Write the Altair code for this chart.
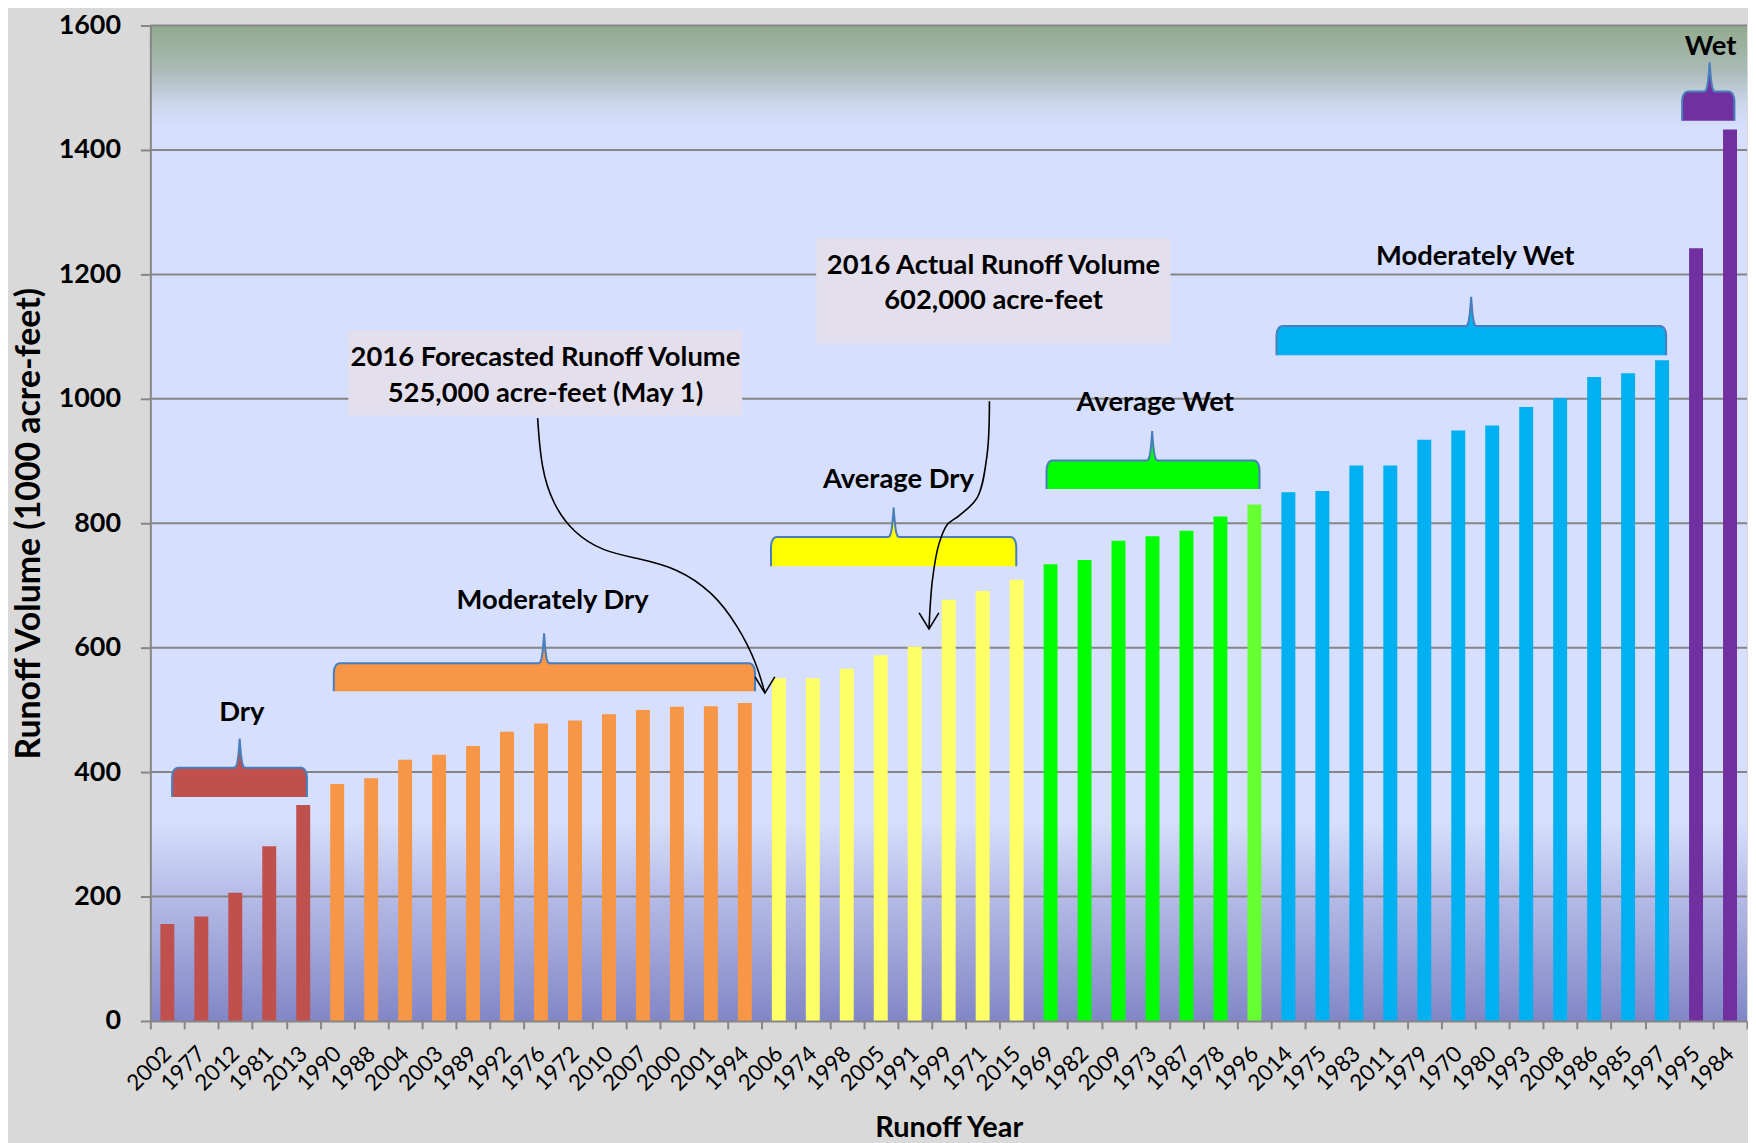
import math
import altair as alt
import pandas as pd

# ---------------- data ----------------
years = ["2002", "1977", "2012", "1981", "2013",
         "1990", "1988", "2004", "2003", "1989", "1992", "1976", "1972", "2010", "2007", "2000", "2001", "1994",
         "2006", "1974", "1998", "2005", "1991", "1999", "1971", "2015",
         "1969", "1982", "2009", "1973", "1987", "1978", "1996",
         "2014", "1975", "1983", "2011", "1979", "1970", "1980", "1993", "2008", "1986", "1985", "1997",
         "1995", "1984"]
volumes = [156, 168, 206, 281, 347,
           381, 390, 420, 428, 442, 465, 478, 483, 493, 500, 505, 506, 511,
           551, 551, 566, 588, 602, 677, 691, 709,
           734, 741, 772, 779, 788, 811, 830,
           850, 852, 893, 893, 934, 949, 957, 987, 1001, 1035, 1041, 1062,
           1242, 1433]
bar_colors = (["#C0504D"] * 5 + ["#F79646"] * 13 + ["#FFFF66"] * 8 +
              ["#00FF00"] * 6 + ["#66FF33"] +
              ["#00B0F0"] * 12 + ["#7030A0"] * 2)

# brace annotations (x in category slots, y in runoff units)
brace_names = ["Dry", "Moderately Dry", "Average Dry", "Average Wet", "Moderately Wet", "Wet"]
brace_fill = ["#C0504D", "#F79646", "#FFFF00", "#00FF00", "#00B0F0", "#7030A0"]
brace_left = [0.64, 5.40, 18.27, 26.38, 33.15, 45.09]
brace_right = [4.61, 17.80, 25.49, 32.65, 44.62, 46.63]
brace_peak_x = [2.63, 11.59, 21.88, 29.49, 38.88, 45.90]
brace_bottom = [360, 530, 731, 855, 1070, 1447]
brace_top = [407, 575, 778, 901, 1117, 1494]
brace_peak = [454, 623, 825, 948, 1164, 1541]
label_x = [2.69, 11.84, 22.02, 29.58, 39.0, 45.93]
label_y = [495, 675, 870, 994, 1228, 1566]

# text boxes
box_x1 = [5.83, 19.60]
box_x2 = [17.42, 30.03]
box_y1 = [973, 1089]
box_y2 = [1110, 1258]
box_text = ["2016 Forecasted Runoff Volume", "525,000 acre-feet (May 1)",
            "2016 Actual Runoff Volume", "602,000 acre-feet"]
box_text_x = [11.63, 11.63, 24.82, 24.82]
box_text_y = [1066, 1007, 1214, 1157]

# curved arrows
arrow1_x = [11.40, 11.50, 11.85, 12.45, 13.30, 14.40, 15.50, 16.55, 17.30, 17.85, 18.09]
arrow1_y = [969, 890, 830, 785, 755, 743, 728, 690, 635, 575, 527]
arrow2_x = [24.70, 24.63, 24.34, 23.80, 23.46, 23.21, 23.02, 22.92]
arrow2_y = [996, 910, 841, 812, 798, 766, 708, 630]

W, H = 1604, 1000
NSLOT = len(years)
GRID = "#868686"
FONT = "Lato"

# ---------------- tables ----------------
bars = pd.DataFrame({"year": years, "vol": volumes, "c": bar_colors})

area_rows, line_rows = [], []
for k, name in enumerate(brace_names):
    L, R, C = brace_left[k], brace_right[k], brace_peak_x[k]
    B, T, S = brace_bottom[k], brace_top[k], brace_peak[k]
    rx, ry, sw = 0.17, 15.0, 0.16
    top = []
    for a in [0, 25, 50, 70, 90]:
        t = math.radians(a)
        top.append((L + rx * (1 - math.cos(t)), T - ry + ry * math.sin(t)))
    for u in [1, 0.7, 0.45, 0.25, 0.1]:
        top.append((C - sw * u, T + (S - T) * (1 - u) ** 3))
    top.append((C, S))
    for u in [0.1, 0.25, 0.45, 0.7, 1]:
        top.append((C + sw * u, T + (S - T) * (1 - u) ** 3))
    for a in [90, 70, 50, 25, 0]:
        t = math.radians(a)
        top.append((R - rx * (1 - math.cos(t)), T - ry + ry * math.sin(t)))
    for i, (x, y) in enumerate(top):
        area_rows.append({"brace": name, "fill": brace_fill[k], "x": x, "y": y, "b": B, "i": i})
    full = [(L, B)] + top + [(R, B)]
    for i, (x, y) in enumerate(full):
        line_rows.append({"brace": name, "x": x, "y": y, "i": i})
brace_area = pd.DataFrame(area_rows)
brace_line = pd.DataFrame(line_rows)
labels = pd.DataFrame({"t": brace_names, "x": label_x, "y": label_y})
boxes = pd.DataFrame({"x1": box_x1, "x2": box_x2, "y1": box_y1, "y2": box_y2})
box_labels = pd.DataFrame({"t": box_text, "x": box_text_x, "y": box_text_y})

arrow1 = pd.DataFrame({"x": arrow1_x, "y": arrow1_y, "i": list(range(len(arrow1_x)))})
arrow2 = pd.DataFrame({"x": arrow2_x, "y": arrow2_y, "i": list(range(len(arrow2_x)))})
head_rows = []
for name, tx, ty in [("f", arrow1_x[-1], arrow1_y[-1]), ("g", arrow2_x[-1], arrow2_y[-1])]:
    head_rows += [{"a": name, "x": tx - 0.29, "y": ty + 26, "i": 0},
                  {"a": name, "x": tx, "y": ty, "i": 1},
                  {"a": name, "x": tx + 0.29, "y": ty + 26, "i": 2}]
heads = pd.DataFrame(head_rows)
grid = pd.DataFrame({"g": list(range(200, 1601, 200))})

# ---------------- scales ----------------
xs = alt.Scale(domain=[0, NSLOT], nice=False, zero=False)
ys = alt.Scale(domain=[0, 1600], nice=False)


def X(f="x"):
    return alt.X(f"{f}:Q", scale=xs, axis=None)


def Y(f="y"):
    return alt.Y(f"{f}:Q", scale=ys, axis=None)


# ---------------- layers ----------------
background = alt.Chart(pd.DataFrame({"a": [0]})).mark_rect(
    color=alt.LinearGradient(
        gradient="linear", x1=0, x2=0, y1=0, y2=1,
        stops=[alt.GradientStop(color="#92AA8D", offset=0),
               alt.GradientStop(color="#AABBB8", offset=0.045),
               alt.GradientStop(color="#CCD7EE", offset=0.08),
               alt.GradientStop(color="#D6DFFD", offset=0.105),
               alt.GradientStop(color="#D6DFFD", offset=0.80),
               alt.GradientStop(color="#B5BBE6", offset=0.875),
               alt.GradientStop(color="#8187C6", offset=1.0)])
).encode(x=alt.value(0), x2=alt.value(W), y=alt.value(0), y2=alt.value(H))

grid_lines = alt.Chart(grid).mark_rule(color=GRID, strokeWidth=2).encode(
    y=Y("g"), x=alt.value(0), x2=alt.value(W))

bar_layer = alt.Chart(bars).mark_bar(width=14).encode(
    x=alt.X("year:N", sort=None,
            scale=alt.Scale(paddingInner=0, paddingOuter=0),
            axis=alt.Axis(title="Runoff Year", labelAngle=-45, labelAlign="right",
                          labelBaseline="middle", labelFontSize=22.5, labelFont=FONT,
                          labelColor="black", labelPadding=21, labelOverlap=False,
                          tickBand="extent", tickSize=8, tickColor=GRID, tickWidth=2,
                          domainColor=GRID, domainWidth=2, titleFont=FONT,
                          titleFontSize=29, titleFontWeight="bold", titleColor="black",
                          titleY=107, titleBaseline="middle", zindex=1)),
    y=alt.Y("vol:Q", scale=ys,
            axis=alt.Axis(title="Runoff Volume (1000 acre-feet)", format="d",
                          values=list(range(0, 1601, 200)), grid=False,
                          labelFontSize=27, labelFontWeight="bold", labelFont=FONT,
                          labelColor="black", labelPadding=20, tickSize=10,
                          tickColor=GRID, tickWidth=2, domainColor=GRID, domainWidth=2,
                          titleFont=FONT, titleFontSize=34, titleFontWeight="bold",
                          titleColor="black", titleX=-121, titleY=H / 2,
                          titleAngle=-90, titleAlign="center", titleBaseline="middle",
                          zindex=1)),
    color=alt.Color("c:N", scale=None),
)

brace_fill_layer = alt.Chart(brace_area).mark_area(opacity=1).encode(
    x=X(), y=Y(), y2=alt.Y2("b:Q"),
    color=alt.Color("fill:N", scale=None), detail="brace:N")

brace_edge_layer = alt.Chart(brace_line).mark_line(color="#4A7EBB", strokeWidth=2).encode(
    x=X(), y=Y(), detail="brace:N", order=alt.Order("i:Q"))

label_layer = alt.Chart(labels).mark_text(
    font=FONT, fontSize=27.5, fontWeight="bold", color="black",
    align="center", baseline="middle").encode(x=X(), y=Y(), text="t:N")

box_layer = alt.Chart(boxes).mark_rect(color="#E4DFEC").encode(
    x=X("x1"), x2="x2:Q", y=Y("y1"), y2="y2:Q")

box_text_layer = alt.Chart(box_labels).mark_text(
    font=FONT, fontSize=27.5, fontWeight="bold", color="black",
    align="center", baseline="middle").encode(x=X(), y=Y(), text="t:N")

arrow1_layer = alt.Chart(arrow1).mark_line(
    color="black", strokeWidth=1.6, interpolate="basis").encode(
    x=X(), y=Y(), order=alt.Order("i:Q"))

arrow2_layer = alt.Chart(arrow2).mark_line(
    color="black", strokeWidth=1.6, interpolate="catmull-rom").encode(
    x=X(), y=Y(), order=alt.Order("i:Q"))

head_layer = alt.Chart(heads).mark_line(color="black", strokeWidth=1.6).encode(
    x=X(), y=Y(), detail="a:N", order=alt.Order("i:Q"))

chart = alt.layer(
    background, grid_lines, bar_layer, brace_fill_layer, brace_edge_layer,
    label_layer, box_layer, box_text_layer, arrow1_layer, arrow2_layer, head_layer
).resolve_scale(x="independent", y="independent").properties(
    width=W, height=H,
    padding={"left": 143, "top": 15, "right": 1, "bottom": 120},
    autosize=alt.AutoSizeParams(type="none"),
).configure(background="#D9D9D9", font=FONT).configure_view(strokeWidth=0)

chart.save("out.html", embed_options={"renderer": "svg", "actions": False})
